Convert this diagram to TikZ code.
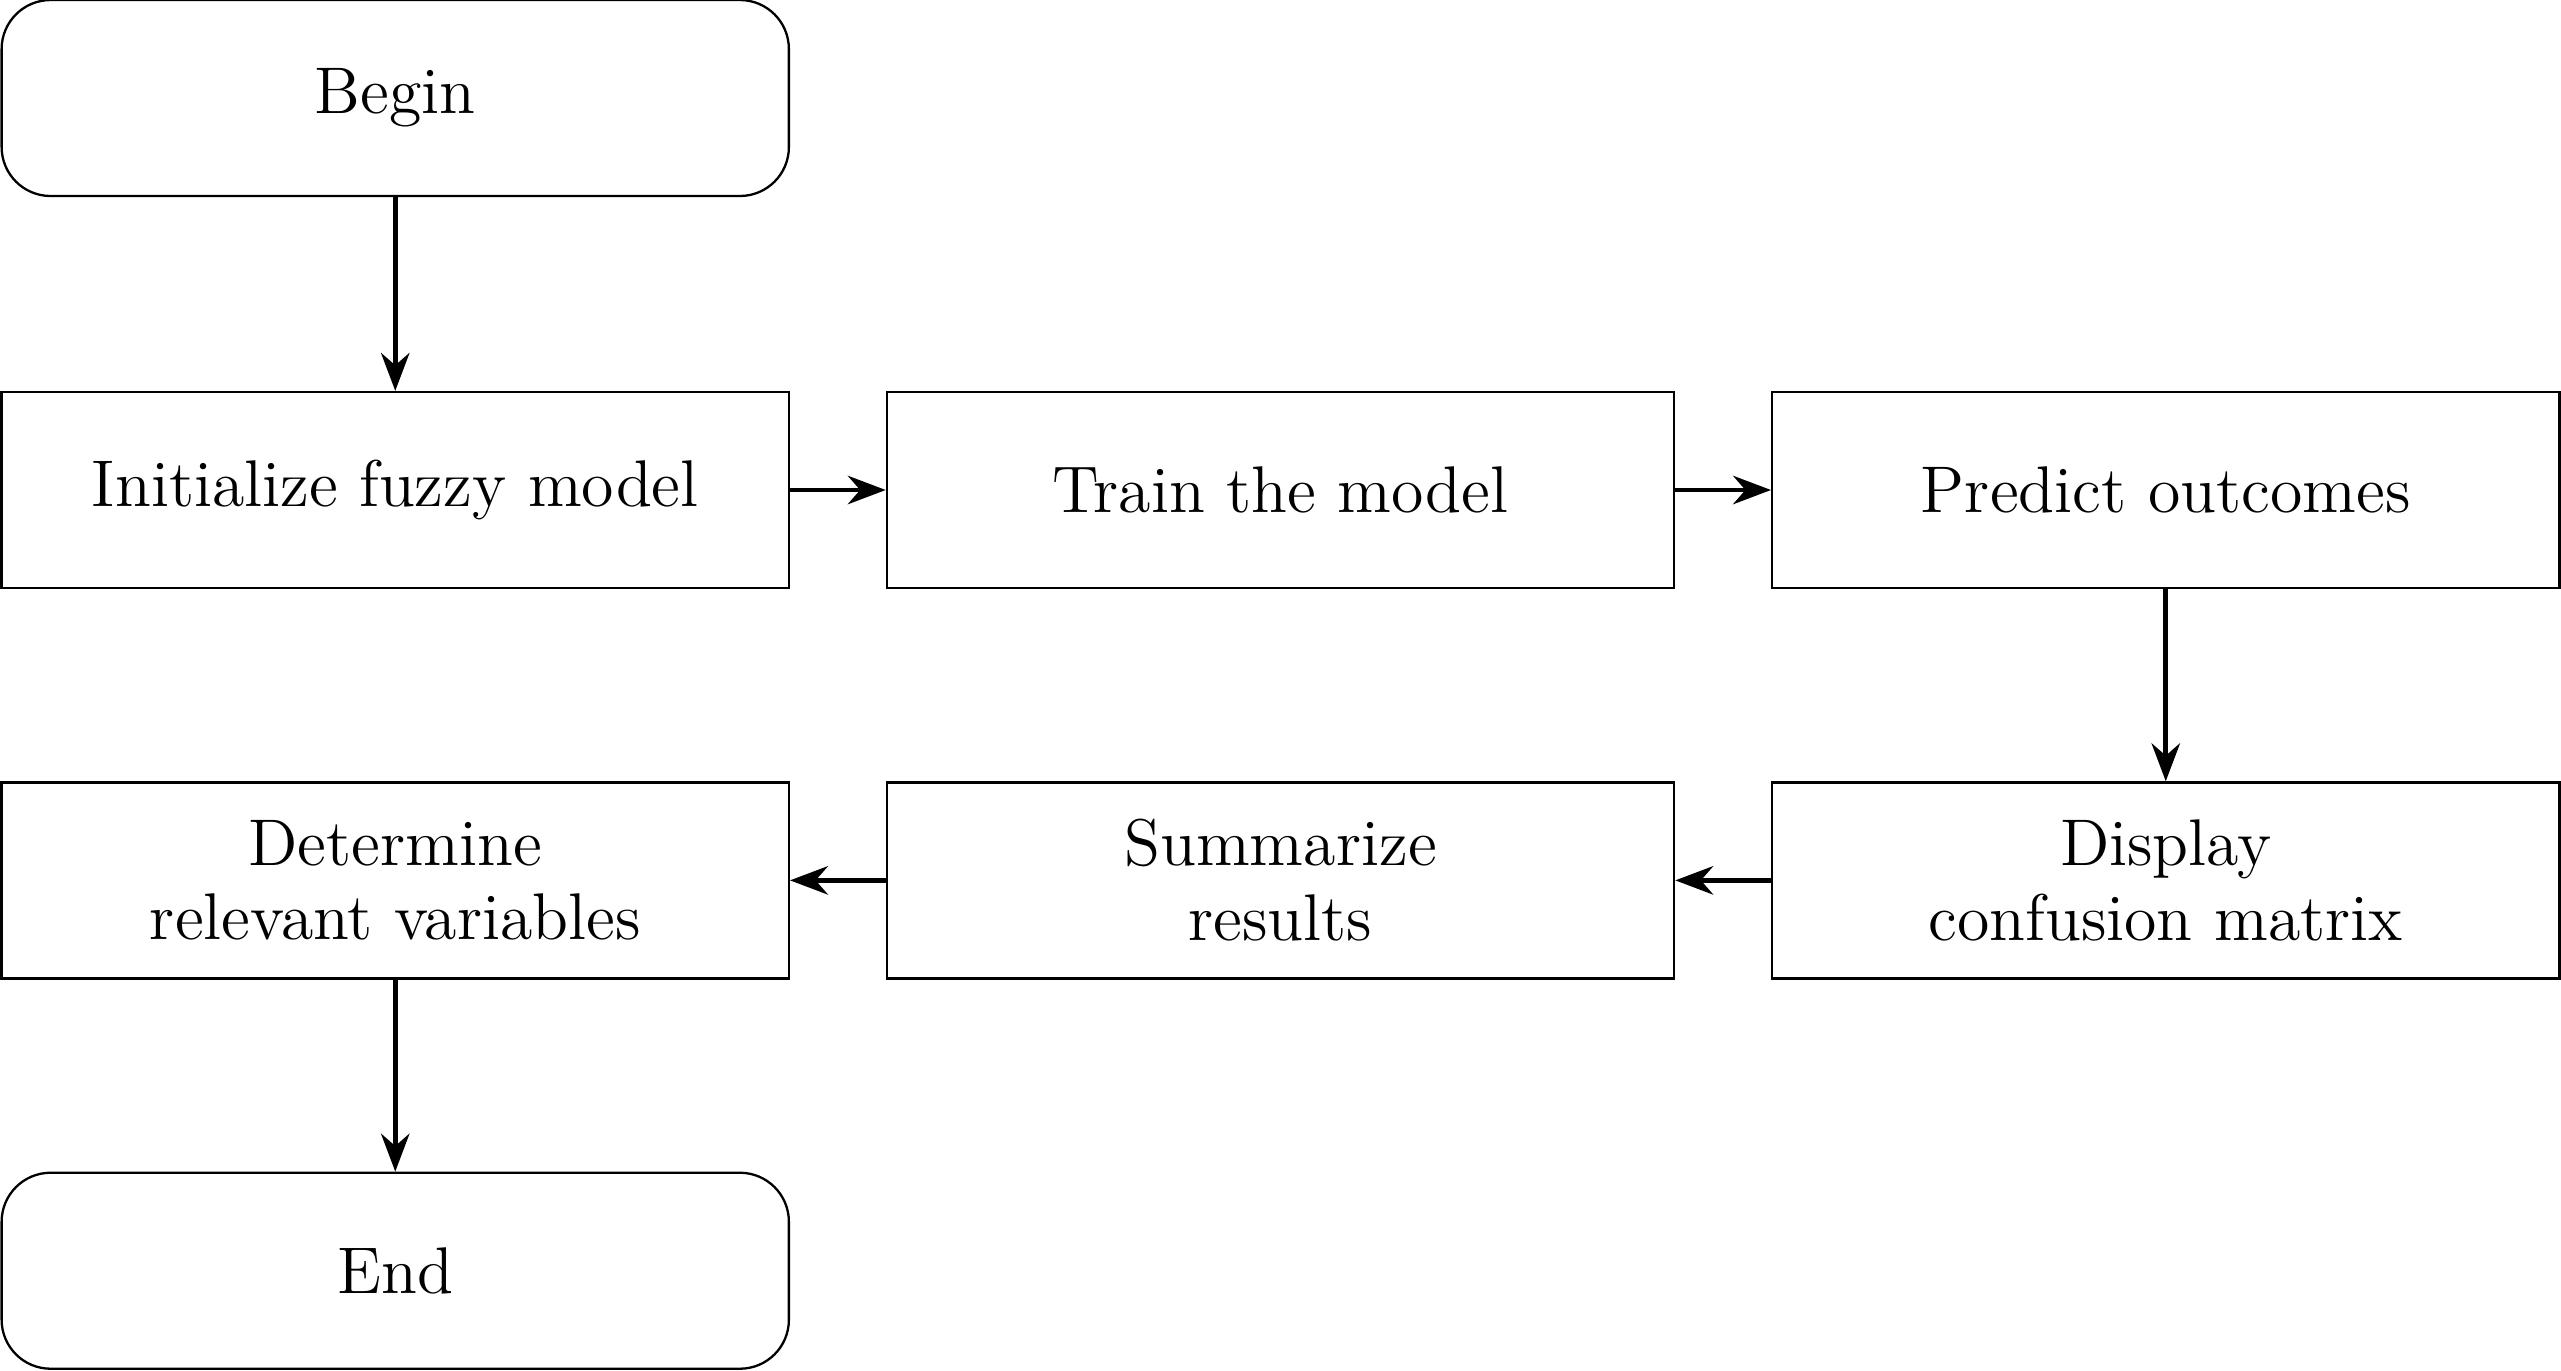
\documentclass[tikz,border=0pt]{standalone}
\usetikzlibrary{positioning,arrows.meta}
\tikzset{
  stepbox/.style={draw, minimum width=4.82cm, minimum height=1.2cm, align=center, inner sep=0.2em, font=\fontsize{11.5}{13}\selectfont},
  termbox/.style={stepbox, rounded corners=0.3cm},
  flow/.style={->, >=Stealth, thick}
}
\begin{document}
\begin{tikzpicture}
	\useasboundingbox (0,0.6) rectangle (15.68,-7.79);

	\node[termbox] (begin) at (2.42, 0)    {Begin};

	\node[stepbox] (init)  at (2.42, -2.4)  {Initialize fuzzy model};
	\node[stepbox] (train) at (7.84, -2.4)  {Train the model};
	\node[stepbox] (pred)  at (13.26, -2.4) {Predict outcomes};

	\node[stepbox] (disp)  at (13.26, -4.79) {Display\\confusion matrix};
	\node[stepbox] (summ)  at (7.84, -4.79)  {Summarize\\results};
	\node[stepbox] (det)   at (2.42, -4.79)  {Determine\\relevant variables};

	\node[termbox] (end)   at (2.42, -7.18) {End};

	\draw [flow] (begin) to (init);
	\draw [flow] (init) to (train);
	\draw [flow] (train) to (pred);
	\draw [flow] (pred) to (disp);
	\draw [flow] (disp) to (summ);
	\draw [flow] (summ) to (det);
	\draw [flow] (det) to (end);
\end{tikzpicture}
\end{document}
